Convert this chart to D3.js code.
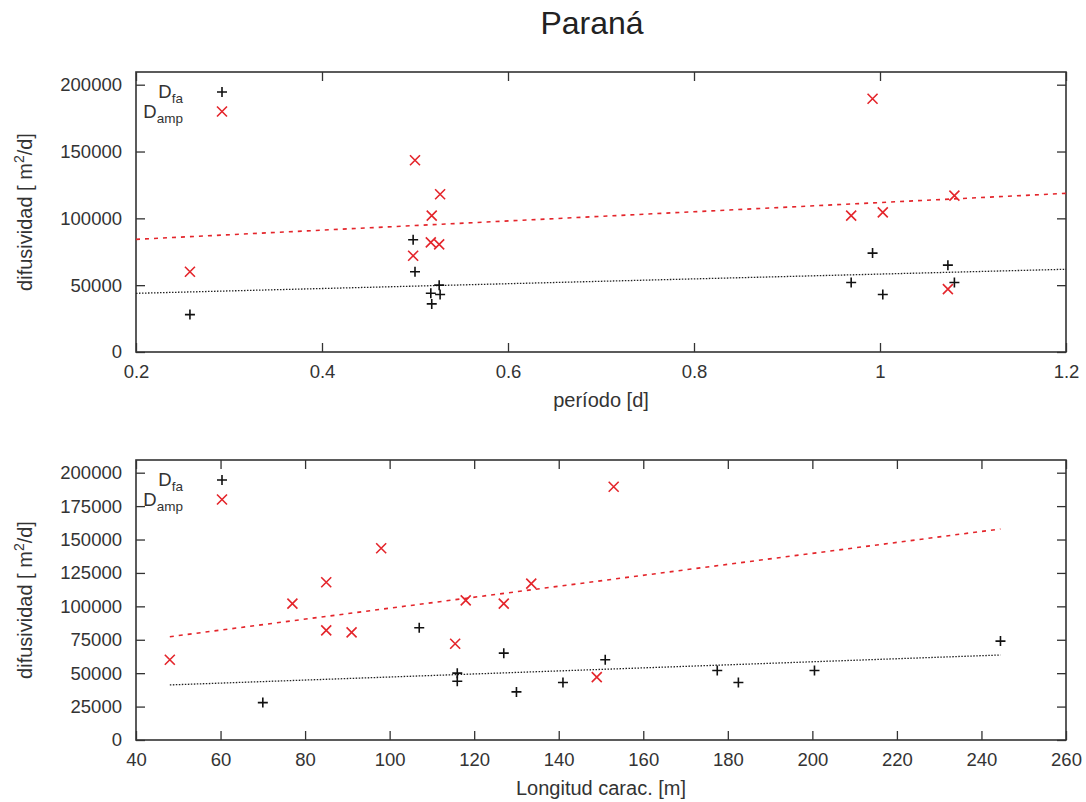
<!DOCTYPE html>
<html>
<head>
<meta charset="utf-8">
<script src="https://cdn.jsdelivr.net/npm/d3@7"></script>
<style>
  body { margin: 0; background: #fff; }
  text { font-family: "Liberation Sans", Arial, sans-serif; fill: #333; }
</style>
</head>
<body>
<div id="chart"></div>
<script>

// site data: one entry per site
var period = [0.258, 0.498, 0.500, 0.518, 0.517, 0.526, 0.527, 0.969, 0.992, 1.003, 1.073, 1.080];
var dfa    = [28000, 84000, 60000, 36000, 44000, 50000, 43000, 52000, 74000, 43000, 65000, 52000];
var damp   = [60000, 72000, 143500, 102000, 82000, 80500, 118000, 102000, 189500, 104500, 47000, 117000];
// characteristic length used for each series in the lower panel
var lenFa  = [70, 107, 151, 130, 116, 116, 141, 177.5, 244.5, 182.5, 127, 200.5];
var lenAmp = [48, 115.5, 98, 77, 85, 91, 85, 127, 153, 118, 149, 133.5];

// fitted lines (end points)
var fitPeriodX = [0.2, 1.2];
var fitPeriodFa = [43900, 61900];
var fitPeriodAmp = [84300, 118700];
var fitLenX = [48, 244.5];
var fitLenFa = [41200, 63600];
var fitLenAmp = [77300, 157900];

// ticks
var periodTicks = [0.2, 0.4, 0.6, 0.8, 1, 1.2];
var lenTicks = [40, 60, 80, 100, 120, 140, 160, 180, 200, 220, 240, 260];
var dTicksTop = [0, 50000, 100000, 150000, 200000];
var dTicksBottom = [0, 25000, 50000, 75000, 100000, 125000, 150000, 175000, 200000];

var red = "#e4252b";

var svg = d3.select("#chart")
    .append("svg")
    .attr("width", 1086)
    .attr("height", 802);

// title
svg.append("text")
    .attr("x", 592)
    .attr("y", 34)
    .attr("text-anchor", "middle")
    .style("font-size", "32px")
    .style("fill", "#222")
    .text("Paraná");

function drawPanel(opt) {

    var left = 136, width = 930, height = 280;

    var g = svg.append("g")
        .attr("transform", "translate(" + left + "," + opt.top + ")");

    var x = d3.scaleLinear()
        .domain(opt.xDomain)
        .range([0, width]);

    var y = d3.scaleLinear()
        .domain([0, 209500])
        .range([height, 0]);

    // axes, ticks pointing inward on all four sides
    var bottom = g.append("g")
        .attr("transform", "translate(0," + height + ")")
        .call(d3.axisBottom(x).tickValues(opt.xTicks).tickFormat(function(d) { return String(d); })
            .tickSizeInner(-9).tickSizeOuter(0).tickPadding(13));
    var top = g.append("g")
        .call(d3.axisTop(x).tickValues(opt.xTicks).tickFormat("")
            .tickSizeInner(-9).tickSizeOuter(0));
    var leftAx = g.append("g")
        .call(d3.axisLeft(y).tickValues(opt.yTicks).tickFormat(function(d) { return String(d); })
            .tickSizeInner(-9).tickSizeOuter(0).tickPadding(14));
    var rightAx = g.append("g")
        .attr("transform", "translate(" + width + ",0)")
        .call(d3.axisRight(y).tickValues(opt.yTicks).tickFormat("")
            .tickSizeInner(-9).tickSizeOuter(0));

    [bottom, top, leftAx, rightAx].forEach(function(a) {
        a.select(".domain").remove();
        a.selectAll(".tick line").attr("stroke", "#333").attr("stroke-width", 1.3);
        a.selectAll(".tick text")
            .style("font-size", "18.5px")
            .style("font-family", "'Liberation Sans', Arial, sans-serif")
            .attr("fill", "#333");
    });

    // frame
    g.append("rect")
        .attr("width", width)
        .attr("height", height)
        .attr("fill", "none")
        .attr("stroke", "#333")
        .attr("stroke-width", 1.6);

    // fit lines
    var line = d3.line()
        .x(function(d) { return x(d[0]); })
        .y(function(d) { return y(d[1]); });

    g.append("path")
        .attr("d", line(d3.zip(opt.fitX, opt.fitFa)))
        .attr("fill", "none")
        .attr("stroke", "#222")
        .attr("stroke-width", 1.3)
        .attr("stroke-dasharray", "1.5,1.5");

    g.append("path")
        .attr("d", line(d3.zip(opt.fitX, opt.fitAmp)))
        .attr("fill", "none")
        .attr("stroke", red)
        .attr("stroke-width", 1.6)
        .attr("stroke-dasharray", "4,5");

    // points
    var plus = "M-5,0H5M0,-5V5";
    var cross = "M-5,-5L5,5M-5,5L5,-5";

    g.selectAll(".fa")
        .data(d3.zip(opt.xFa, dfa))
        .enter().append("path")
        .attr("class", "fa")
        .attr("d", plus)
        .attr("transform", function(d) { return "translate(" + x(d[0]) + "," + y(d[1]) + ")"; })
        .attr("stroke", "#111")
        .attr("stroke-width", 1.6);

    g.selectAll(".amp")
        .data(d3.zip(opt.xAmp, damp))
        .enter().append("path")
        .attr("class", "amp")
        .attr("d", cross)
        .attr("transform", function(d) { return "translate(" + x(d[0]) + "," + y(d[1]) + ")"; })
        .attr("stroke", red)
        .attr("stroke-width", 1.6);

    // legend
    var legend = [
        {main: "D", sub: "fa", mark: plus, color: "#111", dy: 20},
        {main: "D", sub: "amp", mark: cross, color: red, dy: 39.5}
    ];
    legend.forEach(function(l) {
        var t = g.append("text")
            .attr("x", 47)
            .attr("y", l.dy + 6)
            .attr("text-anchor", "end")
            .style("font-size", "18.5px")
            .text(l.main);
        t.append("tspan")
            .attr("dy", 5)
            .style("font-size", "13.5px")
            .text(l.sub);
        g.append("path")
            .attr("d", l.mark)
            .attr("transform", "translate(86," + l.dy + ")")
            .attr("stroke", l.color)
            .attr("stroke-width", 1.6);
    });

    // axis labels
    g.append("text")
        .attr("x", width / 2)
        .attr("y", height + 55)
        .attr("text-anchor", "middle")
        .style("font-size", "20px")
        .text(opt.xLabel);

    var yl = g.append("text")
        .attr("transform", "translate(" + (32 - left) + "," + (height / 2) + ") rotate(-90)")
        .attr("text-anchor", "middle")
        .style("font-size", "20px")
        .text("difusividad [ m");
    yl.append("tspan").attr("dy", -8).style("font-size", "14px").text("2");
    yl.append("tspan").attr("dy", 8).text("/d]");
}

drawPanel({
    top: 72,
    xDomain: [0.2, 1.2],
    xTicks: periodTicks,
    yTicks: dTicksTop,
    xFa: period,
    xAmp: period,
    fitX: fitPeriodX,
    fitFa: fitPeriodFa,
    fitAmp: fitPeriodAmp,
    xLabel: "período [d]"
});

drawPanel({
    top: 460,
    xDomain: [40, 260],
    xTicks: lenTicks,
    yTicks: dTicksBottom,
    xFa: lenFa,
    xAmp: lenAmp,
    fitX: fitLenX,
    fitFa: fitLenFa,
    fitAmp: fitLenAmp,
    xLabel: "Longitud carac. [m]"
});

</script>
</body>
</html>
